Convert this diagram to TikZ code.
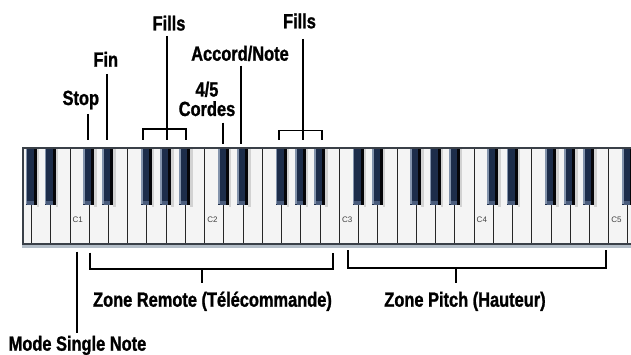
\documentclass[tikz,border=0pt]{standalone}
\usepackage{fontspec}
\newfontfamily\labfont{Liberation Sans}[FakeStretch=0.8, BoldFeatures={FakeBold=1.2}]
\newfontfamily\keyfont{Liberation Sans}
\definecolor{framecol}{HTML}{3A4048}
\definecolor{bandcol}{HTML}{B4BEC8}
\definecolor{whitekey}{HTML}{F4F4F4}
\definecolor{sepcol}{HTML}{262626}
\definecolor{bkbody}{HTML}{1D2D4A}
\definecolor{bkhigh}{HTML}{8494AC}
\definecolor{bkshadow}{HTML}{060609}
\definecolor{bktip}{HTML}{4A5C7C}
\definecolor{keyshade}{HTML}{D2D2D2}
\begin{document}
\begin{tikzpicture}[x=1pt,y=-1pt,
  lab/.style={font=\labfont\bfseries\fontsize{20.5}{19.5}\selectfont, inner sep=0pt, anchor=base, align=center},
  keylab/.style={font=\keyfont\fontsize{8}{9}\selectfont, text=black!75, inner sep=0pt, anchor=west},
  conn/.style={line width=1.8pt, black}]
\useasboundingbox (0,0) rectangle (631,355);
% keyboard
\begin{scope}
\clip (0,0) rectangle (631,355);
\fill[framecol] (21.5,147.5) rectangle (640,245);
\fill[bandcol] (21.5,245) rectangle (640,248);
\fill[whitekey] (23.5,149.5) rectangle (640,242.5);
\foreach \k in {-2,...,29}{
  \pgfmathsetmacro\sx{70+\k*19.24}
  \draw[sepcol, line width=1pt] (\sx,149.5) -- (\sx,242.5);
}
\foreach \k in {-2,...,29}{
  \pgfmathtruncatemacro\m{mod(\k+70,7)}
  \pgfmathsetmacro\c{70+\k*19.24-0.5}
  \ifnum\m=0 \else\ifnum\m=3 \else
    \fill[keyshade] ({\c+5.5},149.5) rectangle ({\c+8},207);
    \fill[bkbody] ({\c-5.5},149.5) rectangle ({\c+5.5},205);
    \fill[bkhigh] ({\c-5.5},149.5) rectangle ({\c-3.8},204);
    \fill[bkshadow] ({\c+2.5},149.5) rectangle ({\c+5.5},205);
    \fill[bktip] ({\c-3.8},201.5) rectangle ({\c+2.5},205);
  \fi\fi
}
\end{scope}
% key labels
\foreach \o/\i in {1/0,2/7,3/14,4/21,5/28}{
  \node[keylab] (c\o) at ({70+\i*19.24+2.5},219.5) {C\o};
}
% top labels
\node[lab] (stop) at (80.8,105) {Stop};
\node[lab] (fin) at (105.8,66.7) {Fin};
\node[lab] (fillsA) at (169,30.5) {Fills};
\node[lab] (cordes) at (207,116) {4/5\\Cordes};
\node[lab] (accord) at (240,60.7) {Accord/Note};
\node[lab] (fillsB) at (299.5,28.3) {Fills};
% bottom labels
\node[lab] (remote) at (212.5,306.7) {Zone Remote (Télécommande)};
\node[lab] (pitch) at (465,306.7) {Zone Pitch (Hauteur)};
\node[lab] (mode) at (77.5,350.7) {Mode Single Note};
% connector end points
\coordinate (stopT) at (88.3,114);   \coordinate (stopB) at (88.3,140);
\coordinate (finT) at (106.7,74);    \coordinate (finB) at (106.7,140);
\coordinate (fAT) at (166.7,36);     \coordinate (fAB) at (166.7,140);
\coordinate (fAL) at (143.3,140);    \coordinate (fAR) at (186,140);
\coordinate (cordT) at (222.7,122.7); \coordinate (cordB) at (222.7,144);
\coordinate (accT) at (241.3,65.7);  \coordinate (accB) at (241.3,144);
\coordinate (fBT) at (302.7,39);     \coordinate (fBB) at (302.7,140);
\coordinate (fBL) at (279.3,140);    \coordinate (fBR) at (321.7,140);
\coordinate (modeT) at (77.3,251.7); \coordinate (modeB) at (77.3,332.5);
\coordinate (remL) at (90,252.5);    \coordinate (remR) at (333.3,252.5);
\coordinate (remS) at (201.7,283.3);
\coordinate (pitL) at (348.3,250);   \coordinate (pitR) at (605.7,250);
\coordinate (pitS) at (456,282.7);
% connectors
\draw[conn] (stopT) -- (stopB);
\draw[conn] (finT) -- (finB);
\draw[conn] (fAT) -- (fAB);
\draw[conn] (fAL) -- (fAL |- 0,129.3) -- (fAR |- 0,129.3) -- (fAR);
\draw[conn] (cordT) -- (cordB);
\draw[conn] (accT) -- (accB);
\draw[conn] (fBT) -- (fBB);
\draw[conn] (fBL) -- (fBL |- 0,130.5) -- (fBR |- 0,130.5) -- (fBR);
\draw[conn] (modeT) -- (modeB);
\draw[conn] (remL) -- (remL |- 0,269.3) -- (remR |- 0,269.3) -- (remR);
\draw[conn] (remS |- 0,269.3) -- (remS);
\draw[conn] (pitL) -- (pitL |- 0,268.3) -- (pitR |- 0,268.3) -- (pitR);
\draw[conn] (pitS |- 0,268.3) -- (pitS);
\end{tikzpicture}
\end{document}
